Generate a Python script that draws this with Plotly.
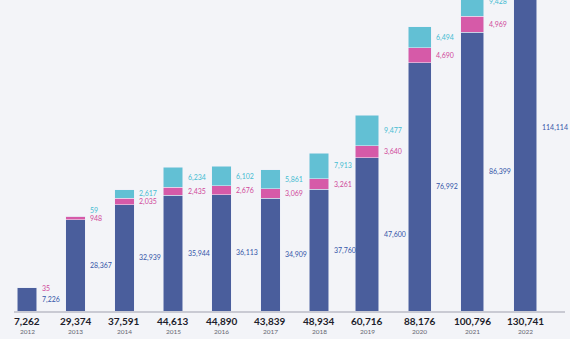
import plotly.graph_objects as go

# Annual figures: stacked components and published totals
years = ["2012", "2013", "2014", "2015", "2016", "2017", "2018", "2019", "2020", "2021", "2022"]
base_values = [7226, 28367, 32939, 35944, 36113, 34909, 37760, 47600, 76992, 86399, 114114]
mid_values = [35, 948, 2035, 2435, 2676, 3069, 3261, 3640, 4690, 4969, 5310]
top_values = [1, 59, 2617, 6234, 6102, 5861, 7913, 9477, 6494, 9428, 11317]
totals = [7262, 29374, 37591, 44613, 44890, 43839, 48934, 60716, 88176, 100796, 130741]

BLUE = "#4a5e9c"
PINK = "#d65aa8"
CYAN = "#62c0d4"
BLUE_TXT = "#3556a8"
PINK_TXT = "#d0489a"
CYAN_TXT = "#45bcd2"
BG = "#f3f4f8"

W, H = 570, 339
MARGIN_B = 28
PLOT_H = H - MARGIN_B
Y_MAX = 96460
PX_PER_UNIT = PLOT_H / Y_MAX
MIN_LABEL_GAP = 8.5  # px between stacked value labels

# two x axes: the later years sit on slightly wider slots
SPLIT = 7
groups = [
    dict(xref="x", idx=range(0, SPLIT), dom=(14, 342), rng=(-0.267, 6.472), width=0.40),
    dict(xref="x2", idx=range(SPLIT, len(years)), dom=(342, 565), rng=(-0.4747, 3.759), width=0.437),
]

fig = go.Figure()
annotations = []
label_font = dict(family="Lato, sans-serif", size=7)

for g in groups:
    xs = [years[i] for i in g["idx"]]
    for vals, color in ((base_values, BLUE), (mid_values, PINK), (top_values, CYAN)):
        fig.add_trace(go.Bar(
            x=xs, y=[vals[i] for i in g["idx"]],
            xaxis=g["xref"], yaxis="y",
            width=g["width"],
            marker=dict(color=color, line=dict(color="rgba(235,238,248,0.9)", width=0.6)),
            hoverinfo="skip", showlegend=False,
        ))

    px_per_cat = (g["dom"][1] - g["dom"][0]) / (g["rng"][1] - g["rng"][0])
    xshift = g["width"] * px_per_cat / 2 + 3

    # on a category axis annotations are placed by category index
    for pos, i in enumerate(g["idx"]):
        b, m, t = base_values[i], mid_values[i], top_values[i]
        segs = [
            (b / 2, b, BLUE_TXT),
            (b + m / 2, m, PINK_TXT),
            (b + m + t / 2, t, CYAN_TXT),
        ]
        prev_px = None
        for ymid, val, col in segs:
            y_px = ymid * PX_PER_UNIT
            shift = 0
            if prev_px is not None and y_px - prev_px < MIN_LABEL_GAP:
                shift = prev_px + MIN_LABEL_GAP - y_px
            if val < 10:
                continue
            prev_px = y_px + shift
            annotations.append(dict(
                x=pos, y=ymid, xref=g["xref"], yref="y",
                text=f"{val:,}", showarrow=False,
                xanchor="left", yanchor="middle", xshift=xshift, yshift=shift,
                font=dict(label_font, color=col),
            ))
        # total and year under the axis
        annotations.append(dict(
            x=pos, y=0, xref=g["xref"], yref="y",
            text=f"<b>{totals[i]:,}</b>", showarrow=False,
            xanchor="center", yanchor="middle", yshift=-10,
            font=dict(family="Lato, sans-serif", size=10, color="#1d1d2b"),
        ))
        annotations.append(dict(
            x=pos, y=0, xref=g["xref"], yref="y",
            text=years[i], showarrow=False,
            xanchor="center", yanchor="middle", yshift=-20.5,
            font=dict(family="Lato, sans-serif", size=6.5, color="#666670"),
        ))

axis_common = dict(
    type="category", showgrid=False, zeroline=False, showticklabels=False,
    ticks="", showline=True, linecolor="#c9cad3", linewidth=1.5, anchor="y",
    fixedrange=True,
)
fig.update_layout(
    width=W, height=H,
    margin=dict(l=0, r=0, t=0, b=MARGIN_B),
    paper_bgcolor=BG, plot_bgcolor=BG,
    barmode="stack",
    xaxis=dict(axis_common, domain=[groups[0]["dom"][0] / W, groups[0]["dom"][1] / W],
               range=list(groups[0]["rng"])),
    xaxis2=dict(axis_common, domain=[groups[1]["dom"][0] / W, groups[1]["dom"][1] / W],
                range=list(groups[1]["rng"])),
    yaxis=dict(range=[0, Y_MAX], visible=False, fixedrange=True),
    annotations=annotations,
)

fig.write_html("out.html")
